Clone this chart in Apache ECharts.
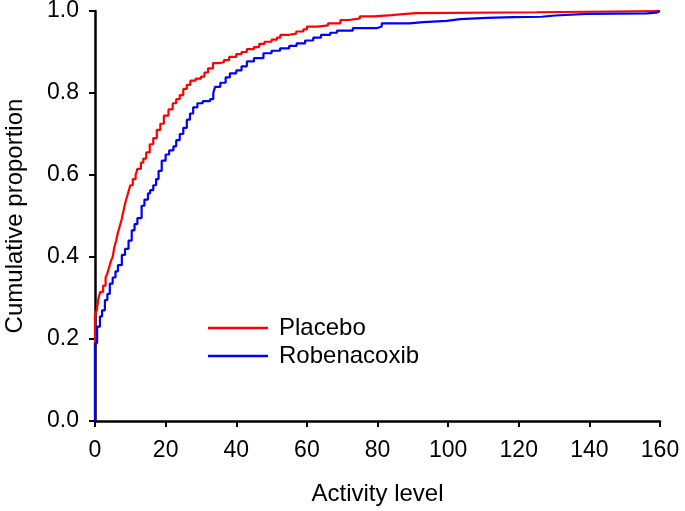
<!DOCTYPE html>
<html>
<head>
<meta charset="utf-8">
<script src="https://cdn.jsdelivr.net/npm/echarts@6/dist/echarts.min.js"></script>
<style>
html,body{margin:0;padding:0;background:#fff;}
#chart{width:685px;height:511px;}
</style>
</head>
<body>
<div id="chart"></div>
<script>
var xTicks = [0, 20, 40, 60, 80, 100, 120, 140, 160];
var yTicks = [0.0, 0.2, 0.4, 0.6, 0.8, 1.0];
var seriesNames = ['Placebo', 'Robenacoxib'];

var placeboX = [0, 0, 0.5, 1, 1.5, 2.3, 3, 3.5, 4, 4.5, 5, 5.5, 6, 6.5, 7, 7.5, 8, 8.5, 9, 9.5, 10, 10.7, 11.5, 12, 13, 13.7, 14.5, 15.5, 16.5, 17.5, 18.5, 19.5, 20.8, 22, 23, 24, 25, 26, 27, 28.5, 30, 31, 32, 33.4, 35, 36.5, 38, 40, 41.5, 43, 45, 46.5, 48, 50, 51.5, 52.5, 55, 57, 59, 60, 63, 66, 69.5, 72, 75, 79, 84, 88, 91, 125, 160];
var placeboY = [0, 0.26, 0.27, 0.30, 0.315, 0.33, 0.35, 0.36, 0.375, 0.39, 0.40, 0.425, 0.44, 0.46, 0.475, 0.49, 0.51, 0.53, 0.545, 0.56, 0.575, 0.59, 0.60, 0.615, 0.63, 0.64, 0.655, 0.675, 0.69, 0.71, 0.725, 0.745, 0.76, 0.775, 0.785, 0.795, 0.81, 0.82, 0.83, 0.835, 0.84, 0.85, 0.86, 0.873, 0.875, 0.88, 0.888, 0.895, 0.90, 0.907, 0.912, 0.92, 0.925, 0.93, 0.935, 0.942, 0.945, 0.95, 0.955, 0.962, 0.965, 0.97, 0.978, 0.982, 0.987, 0.99, 0.993, 0.995, 0.997, 1.0, 1.0];

var robenX = [0, 0, 0.6, 1.4, 2, 2.8, 3.5, 4.2, 5, 5.8, 6.5, 7.6, 8.5, 9.5, 10.4, 11.2, 12, 13.2, 14, 15, 15.6, 16.5, 17.3, 18, 18.9, 20, 21, 22.2, 23, 24, 25, 26, 26.9, 27.8, 29, 30.5, 32.6, 33.5, 34, 35.5, 37, 38.2, 40, 41.5, 43, 45, 47.7, 50, 52.4, 55, 57.1, 59.5, 61.8, 64, 66.6, 68.5, 73, 79.8, 81.2, 89, 93, 99.6, 103.4, 111, 118.5, 126.5, 130.3, 139.3, 156.3, 159, 160];
var robenY = [0, 0.19, 0.23, 0.255, 0.27, 0.295, 0.31, 0.335, 0.35, 0.365, 0.38, 0.405, 0.42, 0.44, 0.465, 0.48, 0.495, 0.525, 0.54, 0.555, 0.563, 0.575, 0.59, 0.61, 0.635, 0.65, 0.66, 0.67, 0.685, 0.70, 0.715, 0.735, 0.75, 0.765, 0.775, 0.78, 0.785, 0.80, 0.815, 0.825, 0.838, 0.848, 0.855, 0.865, 0.877, 0.885, 0.897, 0.903, 0.909, 0.915, 0.921, 0.928, 0.935, 0.942, 0.947, 0.952, 0.958, 0.962, 0.97, 0.973, 0.976, 0.98, 0.983, 0.985, 0.986, 0.989, 0.993, 0.994, 0.996, 1.0, 1.0];

function zip(xs, ys) { return xs.map(function (x, i) { return [x, ys[i]]; }); }

var FONT = 'Liberation Sans, Arial, sans-serif';
var chart = echarts.init(document.getElementById('chart'), null, {renderer: 'canvas'});
chart.setOption({
  animation: false,
  backgroundColor: '#ffffff',
  grid: {left: 95, right: 25, top: 11, bottom: 90, containLabel: false, outerBoundsMode: 'none'},
  legend: {
    orient: 'vertical',
    left: 203,
    top: 311,
    itemWidth: 60,
    itemHeight: 2.5,
    itemGap: 4,
    icon: 'rect',
    data: seriesNames,
    textStyle: {fontFamily: FONT, fontSize: 24, color: '#000', padding: [0, 0, 0, 6]}
  },
  xAxis: {
    type: 'value',
    min: xTicks[0], max: xTicks[xTicks.length - 1], interval: 20,
    name: 'Activity level', nameLocation: 'middle', nameGap: 61,
    nameTextStyle: {fontFamily: FONT, fontSize: 24, color: '#000'},
    axisLine: {show: true, onZero: false, lineStyle: {color: '#000', width: 2.5}},
    axisTick: {show: true, inside: false, length: 6, lineStyle: {color: '#000', width: 2}},
    axisLabel: {fontFamily: FONT, fontSize: 23, color: '#000', margin: 18},
    splitLine: {show: false}
  },
  yAxis: {
    type: 'value',
    min: yTicks[0], max: yTicks[yTicks.length - 1], interval: 0.2,
    name: 'Cumulative proportion', nameLocation: 'middle', nameGap: 68, nameRotate: 90,
    nameTextStyle: {fontFamily: FONT, fontSize: 24, color: '#000'},
    axisLine: {show: true, onZero: false, lineStyle: {color: '#000', width: 2.5}},
    axisTick: {show: true, inside: false, length: 6, lineStyle: {color: '#000', width: 2}},
    axisLabel: {fontFamily: FONT, fontSize: 23, color: '#000', margin: 16,
      formatter: function (v) { return v.toFixed(1); }},
    splitLine: {show: false}
  },
  series: [
    {name: seriesNames[0], type: 'line', step: 'end', showSymbol: false, clip: false,
     color: '#ff0000', lineStyle: {color: '#ff0000', width: 2.2}, data: zip(placeboX, placeboY)},
    {name: seriesNames[1], type: 'line', step: 'end', showSymbol: false, clip: false,
     color: '#0000ff', lineStyle: {color: '#0000ff', width: 2.2}, data: zip(robenX, robenY)}
  ]
});
</script>
</body>
</html>
